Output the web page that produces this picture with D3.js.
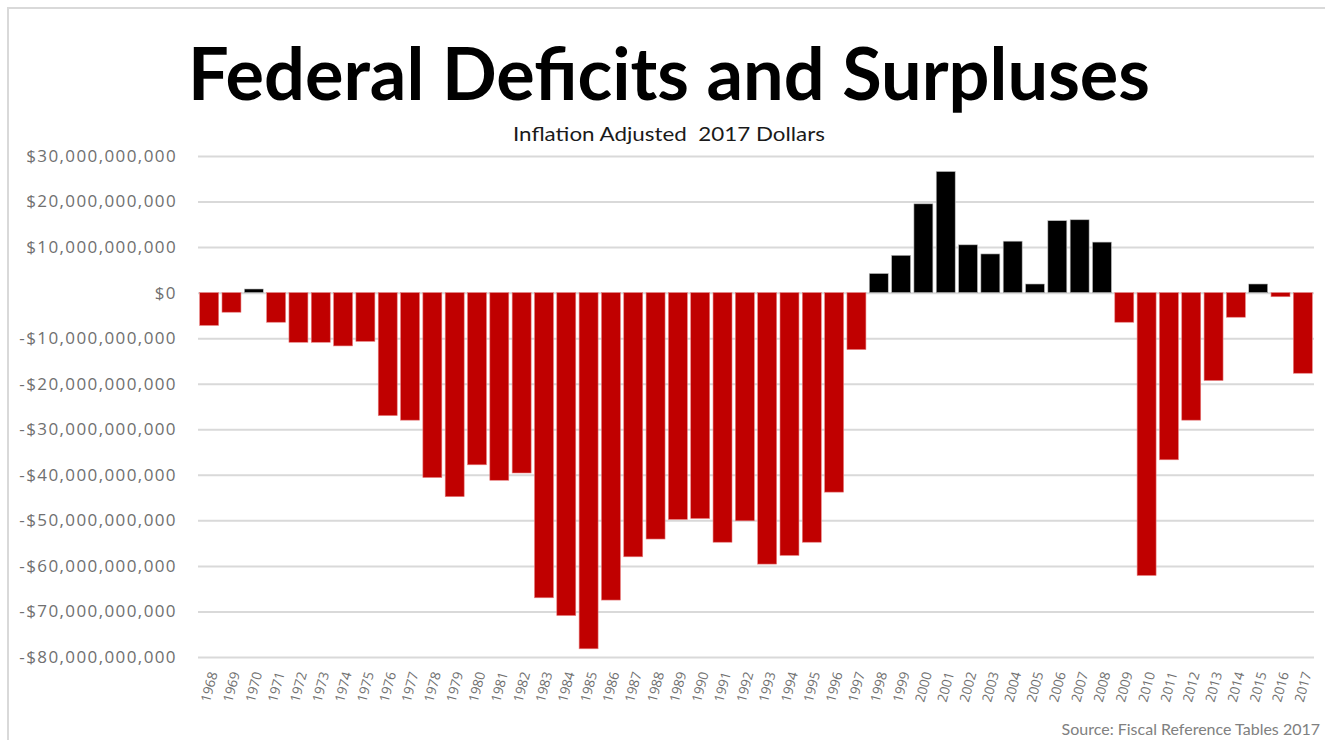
<!DOCTYPE html>
<html>
<head>
<meta charset="utf-8">
<script src="https://cdn.jsdelivr.net/npm/d3@7"></script>
<style>
  html, body { margin: 0; padding: 0; background: #fff; }
  svg { display: block; }
</style>
</head>
<body>
<svg id="chart" width="1325" height="740"></svg>
<script>
// ---- Data (billions of 2017 dollars) ----
const years = ["1968","1969","1970","1971","1972","1973","1974","1975","1976","1977",
  "1978","1979","1980","1981","1982","1983","1984","1985","1986","1987",
  "1988","1989","1990","1991","1992","1993","1994","1995","1996","1997",
  "1998","1999","2000","2001","2002","2003","2004","2005","2006","2007",
  "2008","2009","2010","2011","2012","2013","2014","2015","2016","2017"];
const balanceBillions = [-7.2,-4.3,0.8,-6.5,-10.9,-10.9,-11.7,-10.7,-27.0,-28.0,
  -40.6,-44.8,-37.8,-41.2,-39.6,-67.0,-70.9,-78.2,-67.5,-58.0,
  -54.1,-49.8,-49.6,-54.8,-50.1,-59.6,-57.7,-54.8,-43.8,-12.5,
  4.2,8.2,19.5,26.6,10.5,8.5,11.3,1.9,15.8,16.0,
  11.1,-6.5,-62.1,-36.7,-28.0,-19.3,-5.4,1.9,-0.9,-17.7];
const yTicks = [30e9,20e9,10e9,0,-10e9,-20e9,-30e9,-40e9,-50e9,-60e9,-70e9,-80e9];
const titleText = "Federal Deficits and Surpluses";
const subtitleText = "Inflation Adjusted  2017 Dollars";
const sourceText = "Source: Fiscal Reference Tables 2017";

const data = years.map((y, i) => ({ year: y, value: balanceBillions[i] * 1e9 }));

const svg = d3.select("#chart");
const W = 1325, H = 740;
const plot = { left: 198, right: 1314, top: 156, bottom: 657 };

// Outer frame
svg.append("line").attr("x1", 7).attr("x2", W).attr("y1", 8).attr("y2", 8)
  .attr("stroke", "#d9d9d9").attr("stroke-width", 2);
svg.append("line").attr("x1", 8).attr("x2", 8).attr("y1", 7).attr("y2", H)
  .attr("stroke", "#d9d9d9").attr("stroke-width", 2);

const x = d3.scaleBand().domain(years).range([plot.left, plot.right]).paddingInner(0.15).paddingOuter(0.075);
const y = d3.scaleLinear().domain([-80e9, 30e9]).range([plot.bottom, plot.top]);

const fmt = v => (v < 0 ? "-$" : "$") + d3.format(",")(Math.abs(v));

// Gridlines + y labels
const yAxis = d3.axisLeft(y).tickValues(yTicks).tickSize(-(plot.right - plot.left)).tickFormat(fmt).tickPadding(21);
const gy = svg.append("g").attr("transform", `translate(${plot.left},0)`).call(yAxis);
gy.select(".domain").remove();
gy.selectAll(".tick line").attr("stroke", "#d9d9d9").attr("stroke-width", 2);
gy.selectAll(".tick text")
  .attr("fill", "#707070")
  .style("font-family", "'Open Sans', sans-serif")
  .style("font-size", "17px")
  .style("letter-spacing", "1.4px");

// Bars
svg.append("g").selectAll("rect").data(data).join("rect")
  .attr("x", d => x(d.year))
  .attr("width", x.bandwidth())
  .attr("y", d => y(Math.max(0, d.value)))
  .attr("height", d => Math.abs(y(d.value) - y(0)))
  .attr("fill", d => d.value >= 0 ? "#000000" : "#c00000")
  .attr("stroke", d => d.value >= 0 ? "#bfbfbf" : "#e88080")
  .attr("stroke-width", 0.6);

// X axis labels
const xAxis = d3.axisBottom(x).tickSize(0).tickPadding(0);
const gx = svg.append("g").attr("transform", `translate(0,${plot.bottom})`).call(xAxis);
gx.select(".domain").remove();
gx.selectAll(".tick text")
  .attr("fill", "#707070")
  .style("font-family", "'Open Sans', sans-serif")
  .style("font-size", "13.5px")
  .attr("text-anchor", "end")
  .attr("dy", "0.35em")
  .attr("transform", "translate(4,15) rotate(-75)");

// Title
svg.append("text")
  .attr("x", 669).attr("y", 100)
  .attr("text-anchor", "middle")
  .attr("textLength", 962).attr("lengthAdjust", "spacingAndGlyphs")
  .style("font-family", "Lato, sans-serif").style("font-weight", "bold")
  .style("font-size", "72px").attr("fill", "#000")
  .text(titleText);

// Subtitle
svg.append("text")
  .attr("x", 669).attr("y", 141)
  .attr("text-anchor", "middle")
  .attr("textLength", 312).attr("lengthAdjust", "spacingAndGlyphs")
  .style("font-family", "Lato, sans-serif")
  .style("font-size", "19px").attr("fill", "#1a1a1a")
  .style("white-space", "pre")
  .text(subtitleText);

// Source
svg.append("text")
  .attr("x", 1320).attr("y", 735)
  .attr("text-anchor", "end")
  .style("font-family", "Lato, sans-serif")
  .style("font-size", "16px").attr("fill", "#808080")
  .text(sourceText);
</script>
</body>
</html>
